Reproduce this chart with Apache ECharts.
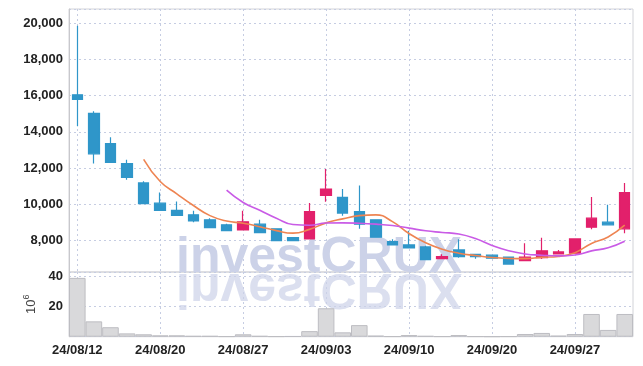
<!DOCTYPE html>
<html><head><meta charset="utf-8">
<script src="https://cdn.jsdelivr.net/npm/echarts@6/dist/echarts.min.js"></script>
<style>html,body{margin:0;padding:0;background:#fff}#c{width:643px;height:366px}</style>
</head><body><div id="c"></div>
<script>
const dates = ['24/08/12','24/08/13','24/08/14','24/08/16','24/08/19','24/08/20','24/08/21','24/08/22','24/08/23','24/08/26',
  '24/08/27','24/08/28','24/08/29','24/08/30','24/09/02','24/09/03','24/09/04','24/09/05','24/09/06','24/09/09',
  '24/09/10','24/09/11','24/09/12','24/09/13','24/09/19','24/09/20','24/09/23','24/09/24','24/09/25','24/09/26',
  '24/09/27','24/09/30','24/10/02','24/10/04'];
const opens  = [16050,15020,13350,12240,11170,10050,9650,9410,9130,8850, 8570,8890,8630,8140,8070,10480,10370,9590,9130,7920, 7740,7630,6980,7460,7220,7170,7070,6870,7030,7240, 7280,8720,9000,8630];
const closes = [15800,12780,12310,11480,10020,9650,9370,9070,8700,8530, 9020,8420,7980,7980,9590,10830,9500,8890,8170,7740, 7570,6920,7090,7090,7090,7000,6680,7060,7410,7350, 8070,9220,8850,10640];
const lows   = [14310,12240,12280,11350,10000,9640,9350,9000,8700,8530, 8570,8390,7960,7970,8050,10130,9350,8630,8150,7740, 7550,6900,6980,7030,6980,6990,6680,6870,6960,7240, 7280,8610,8850,8390];
const highs  = [19870,15140,13700,12460,11260,10640,10140,9630,9220,8910, 9630,9130,8650,8150,10060,11940,10830,11030,9130,8060, 8520,7700,7220,8060,7220,7180,7080,7830,8140,7460, 8110,10390,9960,11170];
const volumes = [39.1,10.2,6.3,2.2,1.6,0.9,0.9,0.5,0.5,0.2, 1.6,0.5,0.2,0.3,3.7,18.9,2.9,7.7,0.7,0.2, 1.1,0.5,0.2,1.1,0.2,0.1,0.2,1.8,2.5,0.7, 1.8,15.1,4.5,15.1];
const ma5  = ['-','-','-','-',12480,11250,10570,9920,9360,9060, 8940,8750,8530,8390,8600,8960,9180,9360,9400,9030, 8370,7860,7500,7280,7150,7040,6990,6980,7050,7100, 7310,7820,8180,8830];
const ma10 = ['-','-','-','-','-','-','-','-','-',10770, 10090,9660,9220,8870,8830,8950,8960,8940,8890,8810, 8670,8520,8430,8340,8090,7710,7420,7240,7170,7130, 7180,7410,7580,7940];

const ohlc = dates.map((d, i) => [opens[i], closes[i], lows[i], highs[i]]);
const FONT = '"Liberation Sans"';
const lbl = {color:'#222', fontSize:13, fontFamily:FONT, fontWeight:'bold'};
const gl = {show:true, lineStyle:{color:'#c6cde2', type:[2,3], width:1}};
const vgl = {show:true, interval:4, alignWithLabel:true, lineStyle:{color:'#c6cde2', type:[2,3], width:1}};

const chart = echarts.init(document.getElementById('c'));
chart.setOption({
  animation:false,
  backgroundColor:'#fff',
  grid:[
    {left:69, right:10, top:9, height:263, show:true, borderColor:'#d2d3d8', borderWidth:1, containLabel:false},
    {left:69, right:10, top:272, height:64.7, show:true, borderColor:'#d2d3d8', borderWidth:1, containLabel:false}
  ],
  graphic:[
    {type:'text', x:176, y:283, z:1, silent:true,
     style:{text:'investCRUX', font:'bold 50px "Liberation Sans"', fill:'#ccd2e8', align:'left', verticalAlign:'bottom'}},
    {type:'text', x:176, y:263, scaleY:-1, z:1, silent:true,
     style:{text:'investCRUX', font:'bold 50px "Liberation Sans"', fill:'#ccd2e8', opacity:0.7, align:'left', verticalAlign:'bottom'}}
  ],
  xAxis:[
    {type:'category', gridIndex:0, data:dates, boundaryGap:true,
     axisLine:{show:false}, axisTick:{show:false}, axisLabel:{show:false}, splitLine:vgl},
    {type:'category', gridIndex:1, data:dates, boundaryGap:true,
     axisLine:{show:false}, axisTick:{show:false},
     axisLabel:Object.assign({interval:4, margin:7}, lbl), splitLine:vgl}
  ],
  yAxis:[
    {type:'value', gridIndex:0, min:6240, max:20800, splitNumber:7, minInterval:2000, maxInterval:2000,
     axisLine:{show:true, lineStyle:{color:'#c8c8cc'}}, axisTick:{show:false},
     axisLabel:Object.assign({showMinLabel:false, showMaxLabel:false, margin:6,
       formatter:v => v.toLocaleString('en-US')}, lbl),
     splitLine:gl},
    {type:'value', gridIndex:1, min:0, max:43, interval:20,
     axisLine:{show:true, lineStyle:{color:'#c8c8cc'}}, axisTick:{show:false},
     axisLabel:Object.assign({showMinLabel:false, showMaxLabel:false, margin:6}, lbl),
     splitLine:gl,
     name:'{a|10}{b|6}', nameLocation:'middle', nameRotate:90, nameGap:22,
     nameTextStyle:{rich:{a:{fontSize:13, color:'#444', fontFamily:'"Liberation Sans"', lineHeight:18},
                          b:{fontSize:9, color:'#444', fontFamily:'"Liberation Sans"', verticalAlign:'top', lineHeight:18}}}}
  ],
  series:[
    {type:'candlestick', xAxisIndex:0, yAxisIndex:0, data:ohlc, barWidth:11, z:3,
     itemStyle:{color:'#e2206b', color0:'#2f96c9', borderColor:'#e2206b', borderColor0:'#2f96c9', borderWidth:1.2}},
    {type:'line', xAxisIndex:0, yAxisIndex:0, data:ma5, smooth:true, showSymbol:false, z:4,
     lineStyle:{color:'#ee8452', width:1.6}},
    {type:'line', xAxisIndex:0, yAxisIndex:0, data:ma10, smooth:true, showSymbol:false, z:4,
     lineStyle:{color:'#c95be6', width:1.6}},
    {type:'bar', xAxisIndex:1, yAxisIndex:1, data:volumes, barCategoryGap:'0%', z:3,
     itemStyle:{color:'#d9d9db', borderColor:'#bdbdc2', borderWidth:1}}
  ]
});
</script></body></html>
